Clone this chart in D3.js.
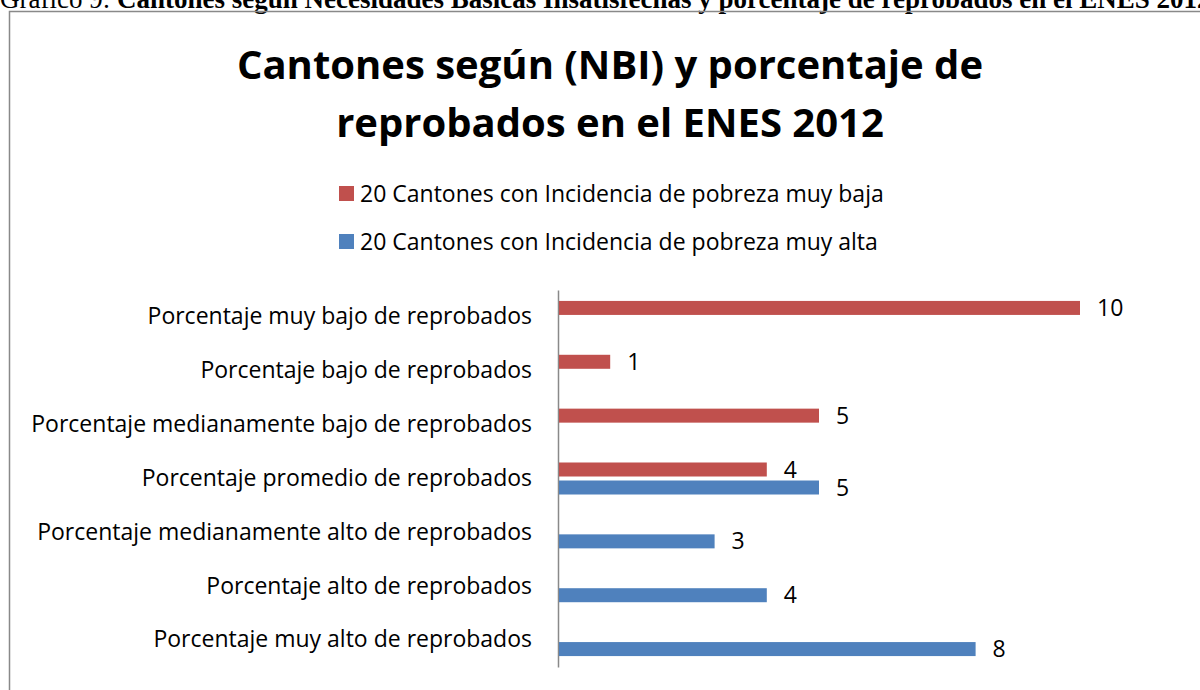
<!DOCTYPE html>
<html>
<head>
<meta charset="utf-8">
<script src="https://cdnjs.cloudflare.com/ajax/libs/d3/7.8.5/d3.min.js"></script>
<style>
  body { margin: 0; background: #fff; }
  svg { display: block; }
</style>
</head>
<body>
<div id="chart"></div>
<script>
// categorias del eje y valores de cada serie (null = sin barra)
const categories = [
  "Porcentaje muy bajo de reprobados",
  "Porcentaje bajo de reprobados",
  "Porcentaje medianamente bajo de reprobados",
  "Porcentaje promedio de reprobados",
  "Porcentaje medianamente alto de reprobados",
  "Porcentaje alto de reprobados",
  "Porcentaje muy alto de reprobados"
];
const seriesNames = [
  "20 Cantones con Incidencia de pobreza muy baja",
  "20 Cantones con Incidencia de pobreza muy alta"
];
const bajaValues = [10, 1, 5, 4, null, null, null];
const altaValues = [null, null, null, 5, 3, 4, 8];
const seriesColors = ["#C0504D", "#4F81BD"];

const W = 1200, H = 690;
const font = "'Open Sans', 'Noto Sans', sans-serif";

const svg = d3.select("#chart").append("svg")
  .attr("width", W).attr("height", H);

// leyenda del documento, cortada arriba
const cap = svg.append("text")
  .attr("x", 0).attr("y", 8)
  .attr("font-family", "'Liberation Serif', serif")
  .attr("font-size", 27);
cap.append("tspan").text("Gráfico 9: ");
cap.append("tspan").attr("font-weight", "bold")
  .text("Cantones según Necesidades Básicas Insatisfechas y porcentaje de reprobados en el ENES 2012");

// marco del grafico
svg.append("rect")
  .attr("x", 9.5).attr("y", 11.5)
  .attr("width", 1300).attr("height", 800)
  .attr("fill", "none")
  .attr("stroke", "#898989").attr("stroke-width", 1.5);

// titulo
const title = svg.append("text")
  .attr("text-anchor", "middle")
  .attr("font-family", font)
  .attr("font-weight", "bold")
  .attr("font-size", 40)
  .attr("fill", "#000");
title.append("tspan").attr("x", 610).attr("y", 79).text("Cantones según (NBI) y porcentaje de");
title.append("tspan").attr("x", 610).attr("y", 137).text("reprobados en el ENES 2012");

// leyenda
const legend = svg.append("g");
seriesNames.forEach(function(name, i){
  const g = legend.append("g").attr("transform", "translate(339," + (186 + i * 48) + ")");
  g.append("rect").attr("width", 15).attr("height", 15).attr("fill", seriesColors[i]);
  g.append("text").attr("x", 21).attr("y", 7.5).attr("dy", "0.35em")
    .attr("font-family", font).attr("font-size", 23).attr("fill", "#000")
    .text(name);
});

// escalas
const x = d3.scaleLinear().domain([0, 10]).range([558, 1080]);
const y = d3.scaleBand().domain(categories).range([290, 667]);
const ySub = d3.scaleBand().domain([0, 1])
  .range([0, y.bandwidth()])
  .paddingInner(0.222).paddingOuter(0.607);

// eje de categorias
const axis = svg.append("g")
  .attr("transform", "translate(" + x(0) + ",0)")
  .call(d3.axisLeft(y).tickSize(0).tickPadding(26));
axis.select(".domain").attr("stroke", "#898989").attr("stroke-width", 1.5);
axis.selectAll("text")
  .attr("font-family", font).attr("font-size", 23).attr("fill", "#000");

// barras
const allSeries = [bajaValues, altaValues];
allSeries.forEach(function(vals, si){
  const data = categories.map(function(c, i){ return {cat: c, v: vals[i]}; })
    .filter(function(d){ return d.v != null; });
  const g = svg.append("g");
  g.selectAll("rect").data(data).enter().append("rect")
    .attr("x", x(0) + 1)
    .attr("y", function(d){ return y(d.cat) + ySub(si); })
    .attr("width", function(d){ return x(d.v) - x(0) - 1; })
    .attr("height", ySub.bandwidth())
    .attr("fill", seriesColors[si]);
  g.selectAll("text").data(data).enter().append("text")
    .attr("x", function(d){ return x(d.v) + 17; })
    .attr("y", function(d){ return y(d.cat) + ySub(si) + ySub.bandwidth() / 2; })
    .attr("dy", "0.35em")
    .attr("font-family", font).attr("font-size", 23).attr("fill", "#000")
    .text(function(d){ return d.v; });
});
</script>
</body>
</html>
